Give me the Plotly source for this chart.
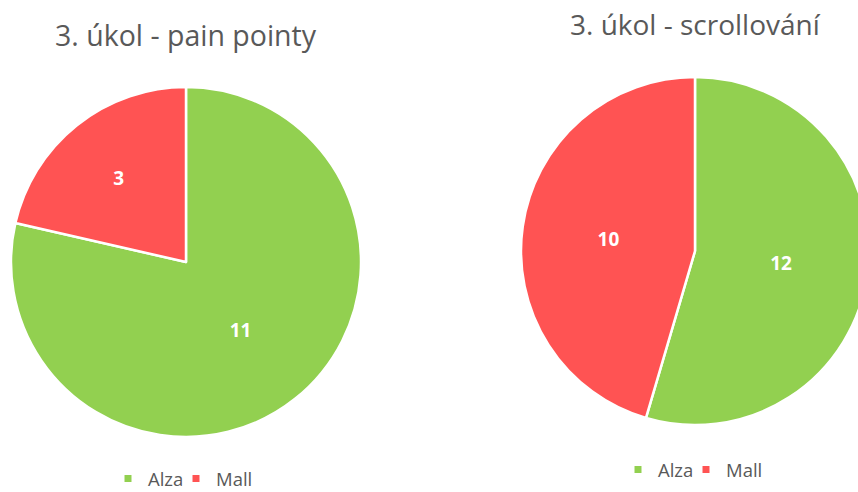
import plotly.graph_objects as go

# Survey answers for task 3
categories = ["Alza", "Mall"]
pain_points = [11, 3]
scrolling = [12, 10]
titles = ["3. úkol - pain pointy", "3. úkol - scrollování"]

colors = ["#92D050", "#FF5353"]
W, H = 870, 492

fig = go.Figure()

pie_style = dict(
    labels=categories, sort=False, direction="clockwise", rotation=0,
    marker=dict(colors=colors, line=dict(color="white", width=2.5)),
    textinfo="value", textposition="inside", insidetextorientation="horizontal",
    textfont=dict(color="white", size=19, family="Open Sans", weight="bold"),
    showlegend=False, hoverinfo="label+value",
)

fig.add_trace(go.Pie(values=pain_points,
                     domain=dict(x=[11 / W, 361 / W], y=[55 / H, 405 / H]),
                     **pie_style))
fig.add_trace(go.Pie(values=scrolling,
                     domain=dict(x=[521 / W, 869 / W], y=[67 / H, 415 / H]),
                     **pie_style))

# Legend keys: each category square gets its own small legend box
legend_ids = [["legend", "legend2"], ["legend3", "legend4"]]
for ids in legend_ids:
    for legend_id, name, color in zip(ids, categories, colors):
        fig.add_trace(go.Scatter(
            x=[None], y=[None], mode="markers", name=name, legend=legend_id,
            marker=dict(symbol="square", size=7, color=color),
            hoverinfo="skip",
        ))

fig.add_annotation(text=titles[0], x=186 / W, y=1 - 35 / H, xref="paper", yref="paper",
                   showarrow=False, xanchor="center", yanchor="middle",
                   font=dict(size=28.5, color="#595959", family="Open Sans"))
fig.add_annotation(text=titles[1], x=695 / W, y=1 - 24 / H, xref="paper", yref="paper",
                   showarrow=False, xanchor="center", yanchor="middle",
                   font=dict(size=28, color="#595959", family="Open Sans"))

legend_style = dict(orientation="h", xanchor="left", yanchor="middle",
                    font=dict(size=18.5, color="#595959", family="Open Sans"),
                    itemwidth=30, bgcolor="rgba(0,0,0,0)")
fig.update_layout(
    width=W, height=H,
    margin=dict(l=0, r=0, t=0, b=0, autoexpand=False),
    paper_bgcolor="white", plot_bgcolor="white",
    xaxis=dict(visible=False), yaxis=dict(visible=False),
    legend=dict(x=108 / W, y=13 / H, **legend_style),
    legend2=dict(x=176 / W, y=13 / H, **legend_style),
    legend3=dict(x=618 / W, y=22 / H, **legend_style),
    legend4=dict(x=686 / W, y=22 / H, **legend_style),
)

fig.write_html("out.html", post_script="document.body.style.overflow='hidden';document.body.style.margin='0';")
